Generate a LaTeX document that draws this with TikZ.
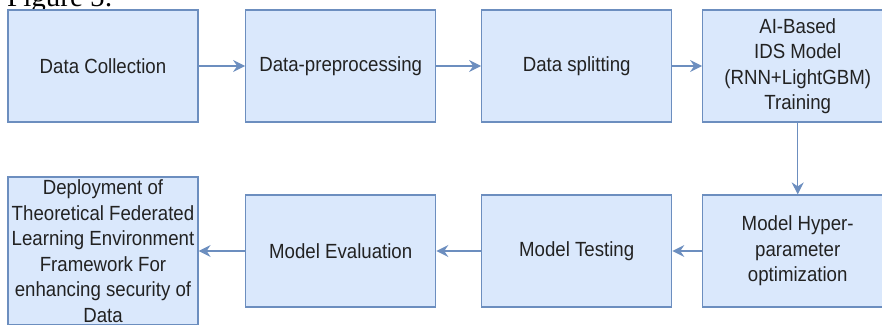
\documentclass[tikz,border=0pt]{standalone}
\usepackage{fontspec}
\setmainfont{Liberation Sans}[FakeStretch=0.91]
\newfontfamily\figserif{Liberation Serif}
\usetikzlibrary{arrows.meta}
\definecolor{boxfill}{HTML}{DAE8FC}
\definecolor{boxline}{HTML}{6C8EBF}
\definecolor{boxtext}{HTML}{222222}
\tikzset{
  stepbox/.style={draw=boxline, fill=boxfill, line width=1.2pt,
    minimum width=190pt, minimum height=112pt, inner sep=0pt,
    align=center, text=boxtext, font=\fontsize{20.5}{25.5}\selectfont},
  conn/.style={draw=boxline, line width=1.3pt,
    -{Stealth[length=12pt,width=12pt,inset=4pt]}}
}
\begin{document}
\begin{tikzpicture}[x=1pt,y=1pt]
\useasboundingbox (0,0) rectangle (882,324);
\clip (0,0) rectangle (882,324);
\node[anchor=base west, inner sep=0pt, font=\figserif\fontsize{29}{29}\selectfont] (fig) at (7,317) {Figure 5:};
\node[stepbox] (b1) at (103,258) {Data Collection};
\node[stepbox] (b2) at (340.7,258) {Data-preprocessing};
\node[stepbox] (b3) at (576.7,258) {Data splitting};
\node[stepbox] (b4) at (797.7,258) {AI-Based\\IDS Model\\(RNN+LightGBM)\\Training};
\node[stepbox] (b5) at (797.7,73) {Model Hyper-\\parameter\\optimization};
\node[stepbox] (b6) at (576.7,73) {Model Testing};
\node[stepbox] (b7) at (340.7,73) {Model Evaluation};
\node[stepbox, minimum height=148pt] (b8) at (103,73) {Deployment of\\Theoretical Federated\\Learning Environment\\Framework For\\enhancing security of\\Data};
\draw[conn] (b1) -- (b2);
\draw[conn] (b2) -- (b3);
\draw[conn] (b3) -- (b4);
\draw[conn] (b4) -- (b5);
\draw[conn] (b5) -- (b6);
\draw[conn] (b6) -- (b7);
\draw[conn] (b7) -- (b8);
\end{tikzpicture}
\end{document}
